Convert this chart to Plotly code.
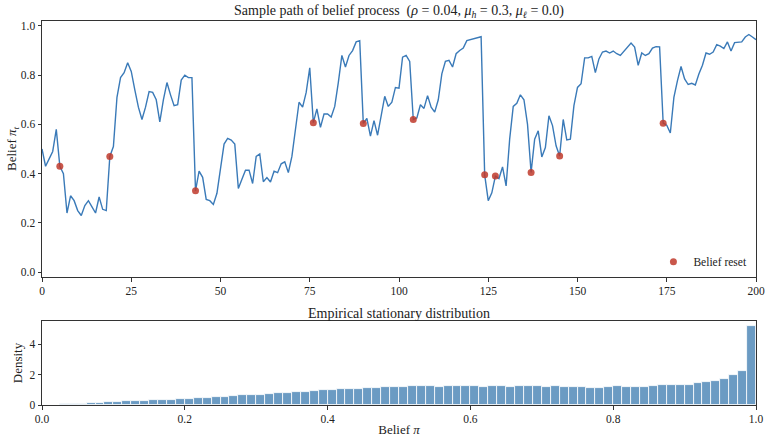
import plotly.graph_objects as go

# Belief process sample path, one value per period t = 0..200
belief = [
    0.50, 0.43, 0.46, 0.49, 0.58, 0.43, 0.40, 0.24, 0.31, 0.29,
    0.25, 0.23, 0.27, 0.29, 0.265, 0.24, 0.305, 0.255, 0.25, 0.47,
    0.51, 0.71, 0.79, 0.81, 0.85, 0.815, 0.74, 0.67, 0.62, 0.67,
    0.733, 0.73, 0.70, 0.61, 0.70, 0.77, 0.72, 0.676, 0.68, 0.78,
    0.80, 0.79, 0.79, 0.33, 0.41, 0.385, 0.295, 0.29, 0.275, 0.32,
    0.42, 0.52, 0.543, 0.536, 0.52, 0.34, 0.377, 0.414, 0.414, 0.36,
    0.47, 0.48, 0.367, 0.384, 0.366, 0.41, 0.404, 0.44, 0.448, 0.404,
    0.47, 0.58, 0.69, 0.67, 0.73, 0.83, 0.607, 0.663, 0.588, 0.642,
    0.642, 0.63, 0.673, 0.77, 0.88, 0.833, 0.88, 0.90, 0.935, 0.94,
    0.604, 0.624, 0.552, 0.615, 0.556, 0.635, 0.714, 0.673, 0.69, 0.75,
    0.747, 0.873, 0.88, 0.856, 0.62, 0.626, 0.68, 0.665, 0.717, 0.67,
    0.65, 0.70, 0.805, 0.856, 0.86, 0.833, 0.887, 0.90, 0.91, 0.94,
    0.944, 0.948, 0.952, 0.956, 0.395, 0.29, 0.322, 0.39, 0.38, 0.427,
    0.35, 0.54, 0.673, 0.686, 0.72, 0.70, 0.60, 0.405, 0.54, 0.574,
    0.468, 0.506, 0.635, 0.595, 0.513, 0.472, 0.62, 0.537, 0.54, 0.676,
    0.75, 0.765, 0.87, 0.87, 0.876, 0.81, 0.866, 0.894, 0.898, 0.89,
    0.898, 0.887, 0.88, 0.897, 0.914, 0.93, 0.914, 0.84, 0.89, 0.88,
    0.887, 0.91, 0.916, 0.915, 0.605, 0.597, 0.565, 0.71, 0.778, 0.835,
    0.785, 0.762, 0.767, 0.76, 0.805, 0.84, 0.89, 0.885, 0.894, 0.924,
    0.918, 0.908, 0.935, 0.898, 0.932, 0.932, 0.935, 0.955, 0.965, 0.955,
    0.944,
]
periods = list(range(len(belief)))

# Periods at which the belief was reset
reset_times = [5, 19, 43, 76, 90, 104, 124, 127, 137, 145, 174]
reset_values = [belief[t] for t in reset_times]

# Empirical stationary density, 80 equal bins on [0, 1]
bin_width = 0.0125
density = [
    0.01, 0.02, 0.04, 0.06, 0.09, 0.15, 0.15, 0.17, 0.22, 0.24,
    0.24, 0.28, 0.30, 0.35, 0.35, 0.39, 0.41, 0.43, 0.48, 0.50,
    0.52, 0.57, 0.63, 0.63, 0.67, 0.72, 0.78, 0.78, 0.87, 0.87,
    0.93, 0.98, 0.98, 1.07, 1.07, 1.07, 1.13, 1.13, 1.17, 1.20,
    1.20, 1.26, 1.28, 1.26, 1.22, 1.26, 1.26, 1.26, 1.26, 1.20,
    1.26, 1.26, 1.20, 1.24, 1.26, 1.26, 1.17, 1.26, 1.20, 1.20,
    1.20, 1.15, 1.15, 1.20, 1.26, 1.20, 1.20, 1.20, 1.26, 1.30,
    1.33, 1.33, 1.35, 1.46, 1.52, 1.57, 1.70, 1.96, 2.24, 5.24,
]
bin_centers = [(i + 0.5) * bin_width for i in range(len(density))]

top_ticks = [0, 25, 50, 75, 100, 125, 150, 175, 200]
top_yticks = [0.0, 0.2, 0.4, 0.6, 0.8, 1.0]
bottom_ticks = [0.0, 0.2, 0.4, 0.6, 0.8, 1.0]
bottom_yticks = [0, 2, 4]

FONT = "Liberation Serif"
LINE_COLOR = "#3a7ab8"
DOT_COLOR = "rgba(192,57,43,0.85)"
BAR_COLOR = "rgba(70,130,180,0.8)"
FRAME = "#333333"
TICK_FONT = dict(family=FONT, size=11.5, color="#222")

fig = go.Figure()

fig.add_trace(go.Scatter(
    x=periods, y=belief, mode="lines",
    line=dict(color=LINE_COLOR, width=1.4),
    showlegend=False, xaxis="x", yaxis="y",
))
fig.add_trace(go.Scatter(
    x=reset_times, y=reset_values, mode="markers",
    marker=dict(color=DOT_COLOR, size=7),
    name="Belief reset", xaxis="x", yaxis="y",
))
fig.add_trace(go.Bar(
    x=bin_centers, y=density, width=bin_width,
    marker=dict(color=BAR_COLOR, line=dict(color="white", width=0.8)),
    showlegend=False, xaxis="x2", yaxis="y2",
))

axis_common = dict(
    showgrid=False, zeroline=False, showline=True, linecolor=FRAME,
    linewidth=1, mirror=True, ticks="outside", ticklen=3.5,
    tickcolor=FRAME, tickfont=TICK_FONT, automargin=False,
    ticklabeloverflow="allow",
)

fig.update_layout(
    width=765, height=437,
    margin=dict(l=42, r=9, t=21, b=32),
    paper_bgcolor="white", plot_bgcolor="white",
    font=dict(family=FONT, color="#222", size=12),
    bargap=0,
    xaxis=dict(axis_common, domain=[0, 1], range=[0, 200],
               tickvals=top_ticks, anchor="y"),
    yaxis=dict(axis_common, domain=[0.3333, 1], range=[-0.02, 1.02],
               tickvals=top_yticks, tickformat=".1f", anchor="x",
               title=dict(text="Belief <i>π<sub>t</sub></i>",
                          font=dict(family=FONT, size=13), standoff=1)),
    xaxis2=dict(axis_common, domain=[0, 1], range=[0, 1],
                tickvals=bottom_ticks, tickformat=".1f", anchor="y2",
                title=dict(text="Belief <i>π</i>",
                           font=dict(family=FONT, size=13), standoff=2)),
    yaxis2=dict(axis_common, domain=[0, 0.21875], range=[0, 5.55],
                tickvals=bottom_yticks, anchor="x2",
                title=dict(text="Density", font=dict(family=FONT, size=13),
                           standoff=3)),
    legend=dict(x=0.995, y=0.335, xanchor="right", yanchor="bottom",
                bgcolor="rgba(0,0,0,0)",
                font=dict(family=FONT, size=11.5)),
    annotations=[
        dict(text="Sample path of belief process  (<i>ρ</i> = 0.04, <i>μ<sub>h</sub></i> = 0.3, <i>μ<sub>ℓ</sub></i> = 0.0)",
             x=0.5, y=1.0, xref="paper", yref="paper",
             xanchor="center", yanchor="bottom", yshift=-1, showarrow=False,
             font=dict(family=FONT, size=14, color="#222")),
        dict(text="Empirical stationary distribution",
             x=0.5, y=0.21875, xref="paper", yref="paper",
             xanchor="center", yanchor="bottom", yshift=-2, showarrow=False,
             font=dict(family=FONT, size=14, color="#222")),
    ],
)

fig.write_html("out.html")
